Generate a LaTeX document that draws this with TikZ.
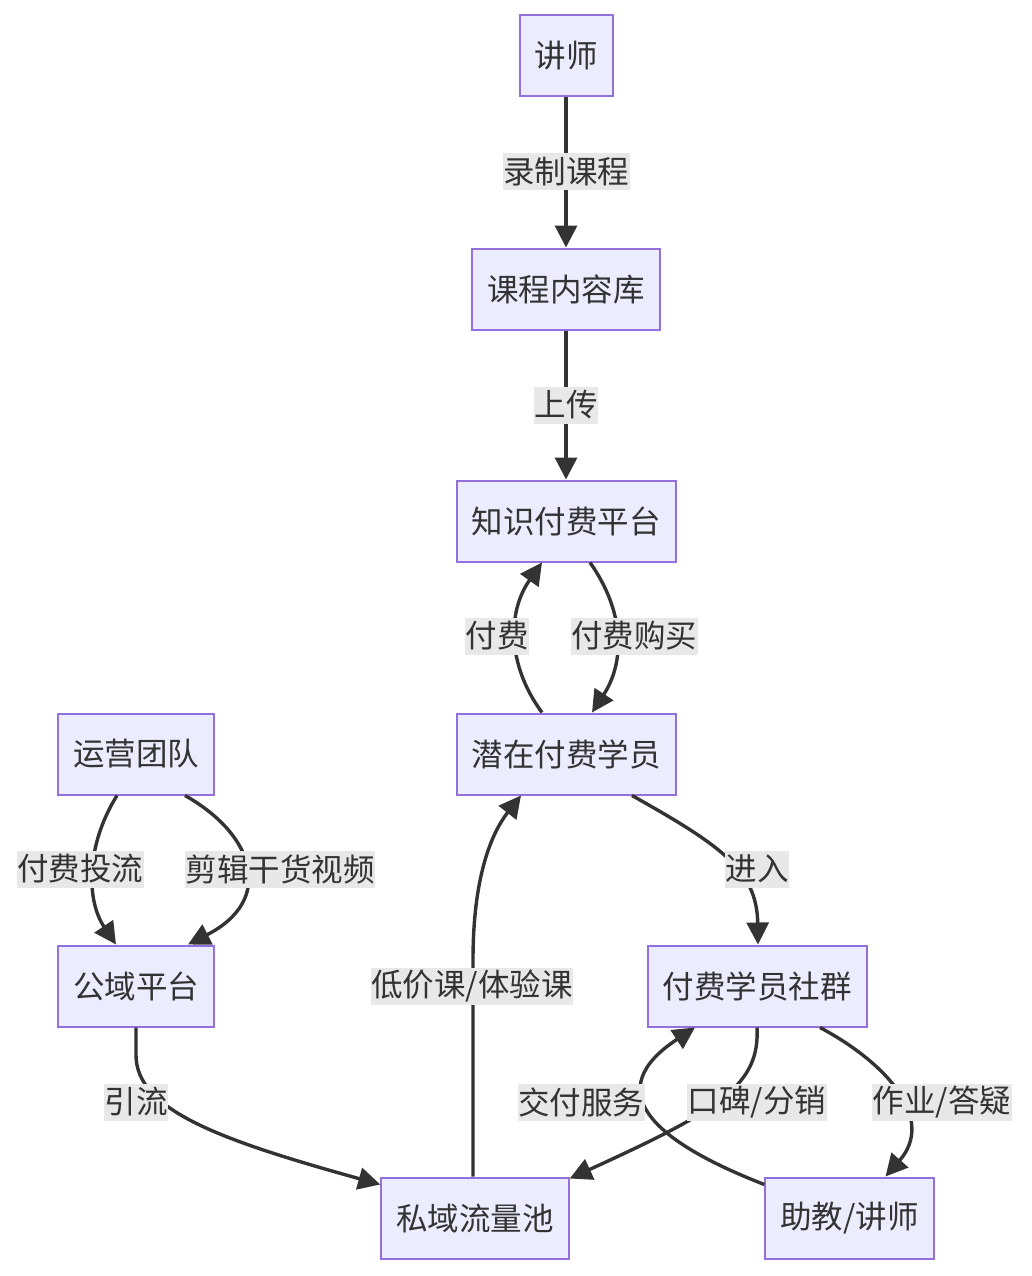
\documentclass[tikz,border=0pt]{standalone}
\usepackage{fontspec}
\setmainfont{Noto Sans CJK SC}
\usetikzlibrary{arrows.meta,calc}
\definecolor{nodefill}{HTML}{ECECFF}
\definecolor{nodeline}{HTML}{9370DB}
\definecolor{edgecol}{HTML}{333333}
\definecolor{lblbg}{HTML}{E8E8E8}
\tikzset{
  box/.style={draw=nodeline, fill=nodefill, line width=2pt, text=edgecol,
    inner xsep=15pt, inner ysep=0pt, minimum height=81pt,
    font=\fontsize{31.5}{36}\selectfont},
  lbl/.style={fill=lblbg, text=edgecol, inner xsep=0.5pt, inner ysep=0pt,
    minimum height=37pt, font=\fontsize{31.5}{36}\selectfont},
  edge/.style={draw=edgecol, line width=3.4pt,
    -{Triangle[length=22pt,width=22pt]}},
}
\begin{document}
\begin{tikzpicture}[x=1pt,y=-1pt]
\useasboundingbox (0,0) rectangle (1032,1276);
% nodes
\node[box] (lec) at (566,56) {讲师};
\node[box] (lib) at (566,289) {课程内容库};
\node[box] (plat) at (566,521) {知识付费平台};
\node[box] (pot) at (566,754) {潜在付费学员};
\node[box] (ops) at (136,754) {运营团队};
\node[box] (pub) at (136,986) {公域平台};
\node[box] (grp) at (757,986) {付费学员社群};
\node[box] (pri) at (475,1218) {私域流量池};
\node[box] (ta) at (849.5,1218) {助教/讲师};
% edges
\draw[edge] (lec.south) -- (lib.north);
\draw[edge] (lib.south) -- (plat.north);
\draw[edge] ($(plat.south)+(24,0)$) .. controls (625,612) and (625,662) .. ($(pot.north)+(26,0)$);
\draw[edge] ($(pot.north)+(-24,0)$) .. controls (507,665) and (507,612) .. ($(plat.south)+(-24,0)$);
\draw[edge] ($(ops.south)+(-19,0)$) .. controls (86,845) and (86,900) .. ($(pub.north)+(-20,0)$);
\draw[edge] ($(ops.south)+(49,0)$) .. controls (255,835) and (275,900) .. ($(pub.north)+(52,0)$);
\draw[edge] ($(pot.south)+(66,0)$) .. controls (720,845) and (757,870) .. ($(grp.north)+(1,0)$);
\draw[edge] ($(pri.north)+(-2,0)$) -- (473,960) .. controls (473,880) and (490,835) .. ($(pot.south)+(-45,0)$);
\draw[edge] (pub.south) -- (136,1055) .. controls (136,1110) and (220,1140) .. ($(pri.north west)+(0,8)$);
\draw[edge] (grp.south) .. controls (760,1085) and (720,1110) .. ($(pri.north east)+(0,2)$);
\draw[edge] ($(ta.north west)+(0,8)$) .. controls (650,1140) and (600,1090) .. ($(grp.south)+(-62,0)$);
\draw[edge] ($(grp.south)+(63,0)$) .. controls (890,1065) and (935,1120) .. ($(ta.north)+(36,0)$);
% labels
\node[lbl] (l1) at (566,172) {录制课程};
\node[lbl] (l2) at (566,405) {上传};
\node[lbl] (l3) at (497,636) {付费};
\node[lbl] (l4) at (634,636) {付费购买};
\node[lbl] (l5) at (80,869) {付费投流};
\node[lbl] (l6) at (280,869) {剪辑干货视频};
\node[lbl] (l7) at (757,869) {进入};
\node[lbl] (l8) at (472,986) {低价课/体验课};
\node[lbl] (l9) at (136,1102) {引流};
\node[lbl] (l10) at (581,1102) {交付服务};
\node[lbl] (l11) at (757,1102) {口碑/分销};
\node[lbl] (l12) at (942,1102) {作业/答疑};
\end{tikzpicture}
\end{document}
